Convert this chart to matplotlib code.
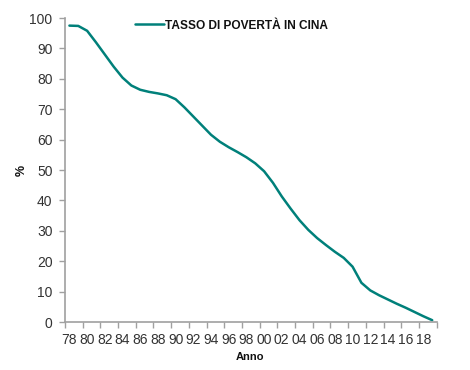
import matplotlib
matplotlib.use("Agg")
import matplotlib.pyplot as plt
import numpy as np

years = list(range(1978, 2020))
poverty = [97.5, 97.4, 95.8, 92.0, 88.0, 84.0, 80.4, 77.8, 76.4, 75.7,
           75.2, 74.6, 73.3, 70.6, 67.6, 64.6, 61.6, 59.3, 57.5, 55.9,
           54.2, 52.2, 49.6, 45.8, 41.3, 37.3, 33.5, 30.3, 27.6, 25.3,
           23.1, 21.1, 18.2, 12.9, 10.4, 8.8, 7.4, 6.0, 4.7, 3.3, 1.9, 0.6]
tick_years = list(range(1978, 2020, 2))
tick_labels = [f"{y % 100:02d}" for y in tick_years]
yticks = list(range(0, 101, 10))
series_name = "TASSO DI POVERTÀ IN CINA"

plt.rcParams['font.family'] = ['Liberation Sans', 'DejaVu Sans']

fig = plt.figure(figsize=(4.7, 3.7), dpi=100)
ax = fig.add_axes([0.1383, 0.1297, 0.929 - 0.1383, 0.8216])

teal = "#00807a"
line, = ax.plot(years, poverty, color=teal, lw=1.8, solid_capstyle='round',
                solid_joinstyle='round')

ax.set_xlim(1977.5, 2019.5)
ax.set_ylim(0, 100)
ax.set_yticks(yticks)
ax.set_yticklabels([str(v) for v in yticks])
# tick marks at category boundaries
ax.set_xticks([y - 0.5 for y in range(1978, 2021, 2)], minor=False)
ax.set_xticklabels([])
ax.set_xticks(tick_years, minor=True)
ax.set_xticklabels(tick_labels, minor=True)
ax.tick_params(axis='x', which='minor', length=0, pad=8, labelsize=10, labelcolor='#333333')
ax.tick_params(axis='x', which='major', length=4, color='#a0a0a0', width=1)
ax.tick_params(axis='y', length=4, color='#a0a0a0', width=1, labelsize=10,
               labelcolor='#333333', pad=5)

for s in ['top', 'right']:
    ax.spines[s].set_visible(False)
for s in ['left', 'bottom']:
    ax.spines[s].set_color('#a0a0a0')
    ax.spines[s].set_linewidth(1.2)

fig.text(22 / 470, 1 - 170 / 370, "%", rotation=90, ha='center', va='center',
         fontsize=9, fontweight='bold', color='#111111')
fig.text(250 / 470, 1 - 357 / 370, "Anno", ha='center', va='center',
         fontsize=8, fontweight='bold', color='#111111')

leg = ax.legend([line], [series_name], loc='upper left',
                bbox_to_anchor=(0.16, 1.03), frameon=False, handlelength=2.4,
                handletextpad=0.1, prop={'weight': 'bold', 'size': 8.6})
for t in leg.get_texts():
    t.set_color('#111111')

fig.savefig("out.png", dpi=100)
